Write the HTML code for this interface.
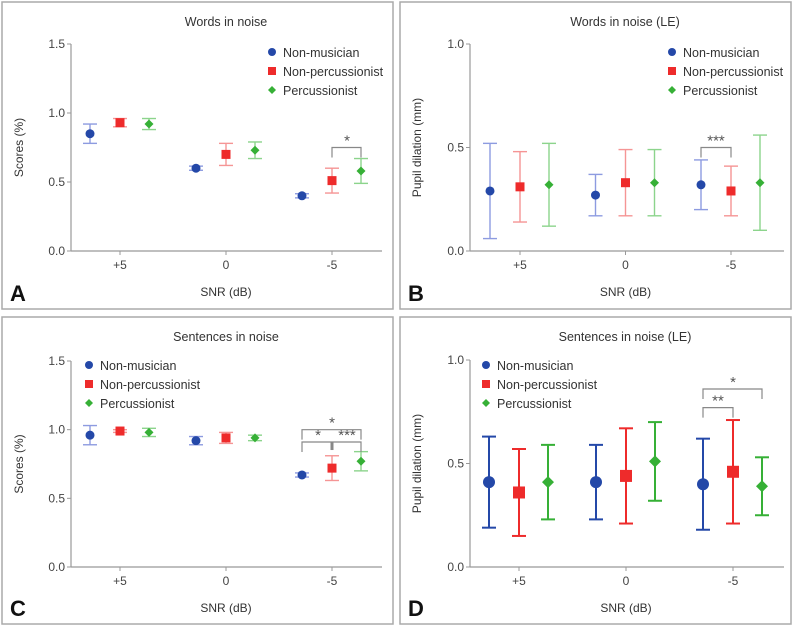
<!DOCTYPE html>
<html><head><meta charset="utf-8">
<style>
body{margin:0;background:#fff;}
svg{display:block;font-family:"Liberation Sans",sans-serif;}
</style></head>
<body>
<svg id="fig" width="794" height="627" viewBox="0 0 794 627"></svg>
<script>
const groupNames = ["Non-musician","Non-percussionist","Percussionist"];
const snrLabels = ["+5","0","-5"];
// Panel A
const aMean = [[0.85,0.60,0.40],[0.93,0.70,0.51],[0.92,0.73,0.58]];
const aLo   = [[0.78,0.585,0.385],[0.90,0.62,0.42],[0.88,0.67,0.49]];
const aHi   = [[0.92,0.615,0.415],[0.96,0.78,0.60],[0.96,0.79,0.67]];
const aTicks = ["0.0","0.5","1.0","1.5"];
// Panel B
const bMean = [[0.29,0.27,0.32],[0.31,0.33,0.29],[0.32,0.33,0.33]];
const bLo   = [[0.06,0.17,0.20],[0.14,0.17,0.17],[0.12,0.17,0.10]];
const bHi   = [[0.52,0.37,0.44],[0.48,0.49,0.41],[0.52,0.49,0.56]];
const bTicks = ["0.0","0.5","1.0"];
// Panel C
const cMean = [[0.96,0.92,0.67],[0.99,0.94,0.72],[0.98,0.94,0.77]];
const cLo   = [[0.89,0.89,0.655],[0.98,0.90,0.63],[0.95,0.92,0.70]];
const cHi   = [[1.03,0.95,0.685],[1.00,0.98,0.81],[1.01,0.96,0.84]];
const cTicks = ["0.0","0.5","1.0","1.5"];
// Panel D
const dMean = [[0.41,0.41,0.40],[0.36,0.44,0.46],[0.41,0.51,0.39]];
const dLo   = [[0.19,0.23,0.18],[0.15,0.21,0.21],[0.23,0.32,0.25]];
const dHi   = [[0.63,0.59,0.62],[0.57,0.67,0.71],[0.59,0.70,0.53]];
const dTicks = ["0.0","0.5","1.0"];

const NS="http://www.w3.org/2000/svg";
const svg=document.getElementById('fig');
function el(tag,attrs,parent,text){const e=document.createElementNS(NS,tag);for(const k in attrs)e.setAttribute(k,attrs[k]);if(text!==undefined)e.textContent=text;(parent||svg).appendChild(e);return e;}

const colors=["#2448a8","#ee2b2b","#36b036"];
const light=["#8d9be0","#f59595","#8cd48c"];

function panel(cfg){
  const g=el('g',{});
  
  
  const fr=el('rect',{x:cfg.fx,y:cfg.fy,width:cfg.fw,height:cfg.fh,fill:'none',stroke:'#aaa','stroke-width':1.5},g);
  
  
  const yMax=parseFloat(cfg.ticks[cfg.ticks.length-1]);
  const ys=v=>cfg.y0+(cfg.y1-cfg.y0)*v/yMax;
  const xs=i=>cfg.xt[0]+(cfg.xt[1]-cfg.xt[0])*i;
  const off=[-30,0,29];
  const t=el('text',{x:cfg.tx,y:cfg.fy+24,'text-anchor':'middle','font-size':12.5,fill:'#333'},g,cfg.title);
  
  
  const ya=el('line',{x1:cfg.ax,y1:cfg.y1,x2:cfg.ax,y2:cfg.y0,stroke:'#999','stroke-width':1.2},g);
  
  
  const xa=el('line',{x1:cfg.ax,y1:cfg.y0,x2:cfg.axEnd,y2:cfg.y0,stroke:'#999','stroke-width':1.2},g);
  
  
  cfg.ticks.forEach(tk=>{
    const y=ys(parseFloat(tk));
    el('line',{x1:cfg.ax-4,y1:y,x2:cfg.ax,y2:y,stroke:'#999'},g);
    const tl=el('text',{x:cfg.ax-6,y:y+4,'text-anchor':'end','font-size':12,fill:'#444'},g,tk);
    
    
  });
  snrLabels.forEach((s,i)=>{
    const x=xs(i);
    el('line',{x1:x,y1:cfg.y0,x2:x,y2:cfg.y0+4,stroke:'#999'},g);
    const tl=el('text',{x:x,y:cfg.y0+18,'text-anchor':'middle','font-size':12,fill:'#444'},g,s);
    
    
  });
  const xl=el('text',{x:xs(1),y:cfg.y0+45,'text-anchor':'middle','font-size':12,fill:'#333'},g,'SNR (dB)');
  
  
  const cy=(cfg.y0+cfg.y1)/2;
  const yl=el('text',{x:cfg.fx+21,y:cy,'text-anchor':'middle','font-size':12,fill:'#333',transform:`rotate(-90 ${cfg.fx+21} ${cy})`},g,cfg.ylabel);
  
  
  const lt=el('text',{x:cfg.fx+8,y:cfg.fy+cfg.fh-8,'font-size':22,'font-weight':'bold',fill:'#111'},g,cfg.letter);
  
  
  const big=cfg.big;
  const ecol=big?colors:light;
  const r=big?6:4.5;
  for(let gi=0;gi<3;gi++){
    for(let i=0;i<3;i++){
      const x=xs(i)+off[gi];
      const sg=el('g',{},g);
      
      
      const lo=ys(cfg.lo[gi][i]),hi=ys(cfg.hi[gi][i]),m=ys(cfg.mean[gi][i]);
      const sw=big?2:1.4;
      el('line',{x1:x,y1:lo,x2:x,y2:hi,stroke:ecol[gi],'stroke-width':sw},sg);
      el('line',{x1:x-7,y1:lo,x2:x+7,y2:lo,stroke:ecol[gi],'stroke-width':sw},sg);
      el('line',{x1:x-7,y1:hi,x2:x+7,y2:hi,stroke:ecol[gi],'stroke-width':sw},sg);
      marker(gi,x,m,r,sg);
    }
  }
  groupNames.forEach((n,gi)=>{
    const ly=cfg.ly+gi*19;
    const lg=el('g',{},g);
    
    
    marker(gi,cfg.lx,ly,4,lg);
    el('text',{x:cfg.lx+11,y:ly+5,'font-size':12.5,fill:'#333'},lg,n);
  });
  cfg.sig.forEach(s=>{
    const x1=xs(s.i)+off[s.a],x2=xs(s.i)+off[s.b],y=ys(s.y);
    const bg=el('g',{},g);
    
    
    el('path',{d:`M${x1},${y+10}V${y}H${x2}V${y+10}`,fill:'none',stroke:'#888','stroke-width':1.2},bg);
    if(s.mid!==undefined){const xm=xs(s.i)+off[s.mid];el('line',{x1:xm,y1:y,x2:xm,y2:y+8,stroke:'#888','stroke-width':3},bg);}
    s.labels.forEach(l=>{
      const lx=xs(s.i)+l.x;
      el('text',{x:lx,y:y-2,'text-anchor':'middle','font-size':15,fill:'#555'},bg,l.t);
    });
  });
}
function marker(gi,x,y,r,p){
  if(gi===0) el('circle',{cx:x,cy:y,r:r,fill:colors[0]},p);
  else if(gi===1) el('rect',{x:x-r,y:y-r,width:2*r,height:2*r,fill:colors[1]},p);
  else el('path',{d:`M${x},${y-r}L${x+r},${y}L${x},${y+r}L${x-r},${y}Z`,fill:colors[2]},p);
}
panel({name:'panel-a-words-in-noise',letter:'A',title:'Words in noise',ylabel:'Scores (%)',fx:2,fy:2,fw:391,fh:307,tx:226,ax:71,axEnd:382,y0:251,y1:44,xt:[120,226],ticks:aTicks,mean:aMean,lo:aLo,hi:aHi,big:false,lx:272,ly:52,
  sig:[{i:2,a:1,b:2,y:0.75,labels:[{x:15,t:'*'}]}]});
panel({name:'panel-b-words-in-noise-le',letter:'B',title:'Words in noise (LE)',ylabel:'Pupil dilation (mm)',fx:400,fy:2,fw:391,fh:307,tx:625,ax:470,axEnd:784,y0:251,y1:44,xt:[520,625.5],ticks:bTicks,mean:bMean,lo:bLo,hi:bHi,big:false,lx:672,ly:52,
  sig:[{i:2,a:0,b:1,y:0.50,labels:[{x:-15,t:'***'}]}]});
panel({name:'panel-c-sentences-in-noise',letter:'C',title:'Sentences in noise',ylabel:'Scores (%)',fx:2,fy:317,fw:391,fh:307,tx:226,ax:71,axEnd:382,y0:567,y1:361,xt:[120,226],ticks:cTicks,mean:cMean,lo:cLo,hi:cHi,big:false,lx:89,ly:365,
  sig:[{i:2,a:0,b:2,y:1.0,labels:[{x:0,t:'*'}]},{i:2,a:0,b:2,mid:1,y:0.91,labels:[{x:-14,t:'*'},{x:15,t:'***'}]}]});
panel({name:'panel-d-sentences-in-noise-le',letter:'D',title:'Sentences in noise (LE)',ylabel:'Pupil dilation (mm)',fx:400,fy:317,fw:391,fh:307,tx:625,ax:470,axEnd:784,y0:567,y1:360,xt:[519,626],ticks:dTicks,mean:dMean,lo:dLo,hi:dHi,big:true,lx:486,ly:365,
  sig:[{i:2,a:0,b:2,y:0.86,labels:[{x:0,t:'*'}]},{i:2,a:0,b:1,y:0.77,labels:[{x:-15,t:'**'}]}]});
</script>
</body></html>
